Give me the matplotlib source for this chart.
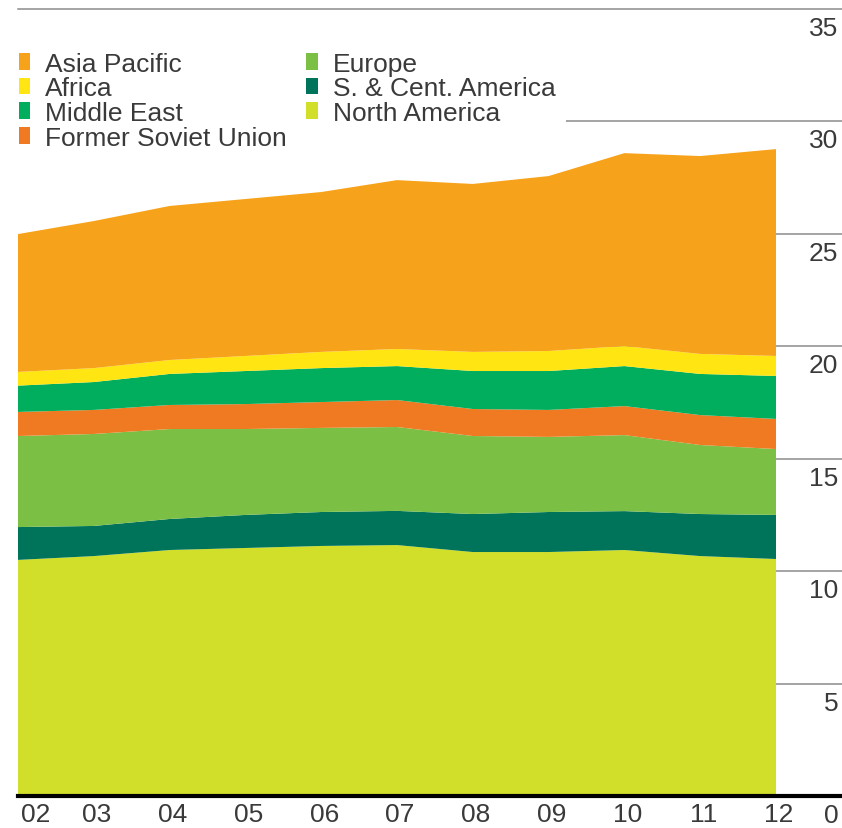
import numpy as np
import matplotlib.pyplot as plt
from matplotlib.patches import Patch
import matplotlib.transforms as mtransforms

plt.rcParams['font.family'] = ['Liberation Sans', 'DejaVu Sans']

# years (2002-2012), values (stacked from the bottom)
years = np.arange(2002, 2013)
year_labels = ['02', '03', '04', '05', '06', '07', '08', '09', '10', '11', '12']

north_america = [10.50, 10.67, 10.94, 11.03, 11.12, 11.16, 10.85, 10.85, 10.94, 10.67, 10.54]
sc_america = [1.46, 1.34, 1.38, 1.47, 1.51, 1.52, 1.69, 1.78, 1.73, 1.87, 1.96]
europe = [4.05, 4.09, 4.00, 3.82, 3.74, 3.73, 3.47, 3.34, 3.38, 3.07, 2.93]
fsu = [1.07, 1.07, 1.07, 1.11, 1.15, 1.20, 1.20, 1.20, 1.29, 1.33, 1.34]
middle_east = [1.17, 1.24, 1.38, 1.47, 1.51, 1.51, 1.69, 1.73, 1.78, 1.83, 1.91]
africa = [0.61, 0.62, 0.62, 0.67, 0.72, 0.76, 0.85, 0.89, 0.89, 0.89, 0.89]
asia_pacific = [6.13, 6.54, 6.85, 6.98, 7.11, 7.51, 7.47, 7.78, 8.58, 8.80, 9.20]

y_ticks = [5, 10, 15, 20, 25, 30, 35]

series = [north_america, sc_america, europe, fsu, middle_east, africa, asia_pacific]
names = ['North America', 'S. & Cent. America', 'Europe', 'Former Soviet Union',
         'Middle East', 'Africa', 'Asia Pacific']
colors = ['#d1de2a', '#00745a', '#7bbf44', '#f07a22', '#00ae5e', '#ffe512', '#f7a21b']

text_col = '#3a3a3a'
fs = 19

fig = plt.figure(figsize=(8.42, 8.29), dpi=100)
W, H = 842, 829
ax = fig.add_axes([18 / W, 1 - 797 / H, (776 - 18) / W, (797 - 10) / H])
ax.set_xlim(2002, 2012)
ax.set_ylim(0, 35)
for s in ax.spines.values():
    s.set_visible(False)

x_right = 2002 + (842 - 18) / ((776 - 18) / 10)  # data x at right edge of figure

# gridlines, behind the areas, running out to the right edge
for v in y_ticks:
    x0 = 2002 if v == 35 else 2002.2
    ax.plot([x0, x_right], [v, v], color='#8c8c8c', lw=1.1, clip_on=False, zorder=0)
    ax.annotate(str(v), xy=(x_right - 0.05, v), xytext=(0, -5), textcoords='offset points',
                ha='right', va='top', fontsize=fs, color=text_col, annotation_clip=False)

ax.stackplot(years, series, colors=colors, zorder=2, linewidth=0)

# thick base line
ax.plot([2002, x_right], [0, 0], color='black', lw=3, clip_on=False, zorder=3)

ax.set_yticks([])
ax.set_xticks(years)
ax.set_xticklabels(year_labels, fontsize=fs, color=text_col)
ax.tick_params(axis='x', length=0, pad=4)
shift = mtransforms.ScaledTranslation(3 / 100, 0, fig.dpi_scale_trans)
for i, lab in enumerate(ax.get_xticklabels()):
    lab.set_transform(lab.get_transform() + shift)
    if i == 0:
        lab.set_ha('left')
ax.annotate('0', xy=(x_right - 0.05, 0), xytext=(0, -5), textcoords='offset points',
            ha='right', va='top', fontsize=fs, color=text_col, annotation_clip=False)

order = [6, 5, 4, 3, 2, 1, 0]
handles = [Patch(facecolor=colors[i], edgecolor='none') for i in order]
labels = [names[i] for i in order]
leg = fig.legend(handles, labels, loc='upper left', bbox_to_anchor=(8 / W, 1 - 42 / H),
                 ncol=2, fontsize=fs, frameon=True, fancybox=False, borderpad=0.4,
                 handlelength=0.45, handleheight=0.6, handletextpad=0.55,
                 labelspacing=0.03, columnspacing=0.75, borderaxespad=0)
leg.get_frame().set_facecolor('white')
leg.get_frame().set_edgecolor('none')
leg.get_frame().set_alpha(1)
for t in leg.get_texts():
    t.set_color(text_col)

fig.savefig('out.png', dpi=100)
